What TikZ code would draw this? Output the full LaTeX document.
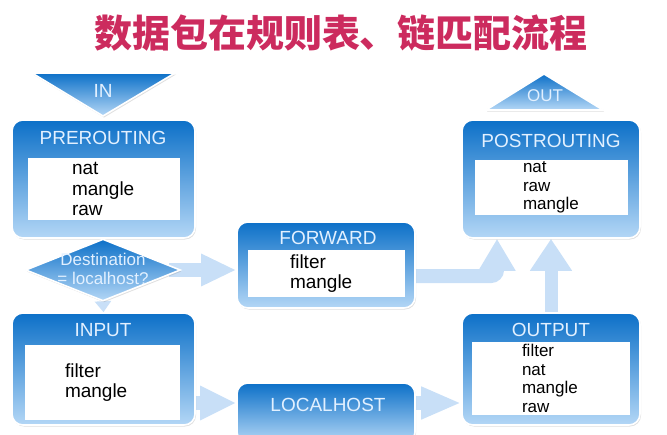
\documentclass[tikz,border=0pt]{standalone}
\usepackage{fontspec}
\setmainfont{Liberation Sans}
\newfontfamily\cjkfont{Noto Sans CJK SC}
\usetikzlibrary{arrows.meta,positioning,shapes.geometric,shadows,backgrounds}
\definecolor{chainblue}{RGB}{12,112,200}
\definecolor{chainmid}{RGB}{70,150,225}
\definecolor{chainpale}{RGB}{180,215,246}
\definecolor{flowblue}{RGB}{200,223,247}
\definecolor{headred}{RGB}{204,43,94}
\definecolor{labelwhite}{RGB}{226,240,255}

\tikzset{
  chainbox/.style={rounded corners=11pt, top color=chainblue, bottom color=chainpale,
    draw=white, line width=1.6pt, drop shadow={shadow xshift=1pt, shadow yshift=-1.5pt, opacity=0.25}},
  entrytri/.style={top color=chainblue, bottom color=chainpale, draw=white, line width=1.6pt,
    drop shadow={shadow xshift=1pt, shadow yshift=-1.5pt, opacity=0.25}},
  chaintitle/.style={text=labelwhite, font=\fontsize{19}{21}\selectfont, inner sep=0pt},
  tablelist/.style={fill=white, align=left, inner ysep=0pt, font=\fontsize{19}{20.5}\selectfont},
  smalllist/.style={tablelist, font=\fontsize{17}{18.7}\selectfont},
  decision/.style={diamond, top color=chainblue, bottom color=chainpale, draw=white, line width=1.6pt,
    inner sep=0pt, drop shadow={shadow xshift=1pt, shadow yshift=-1.5pt, opacity=0.25}},
  flow/.style={draw=flowblue, line width=14pt, -{Triangle[length=32pt,width=34pt]}},
}

\begin{document}
\begin{tikzpicture}[x=1pt, y=-1pt]
\clip (0,0) rectangle (667,434);

\node[text=headred, font=\cjkfont\bfseries\fontsize{38}{40}\selectfont] (heading) at (341,33) {数据包在规则表、链匹配流程};

% in / out
\path[entrytri] (32,73) -- (175,73) -- (103,116) -- cycle;
\node[chaintitle] (inlabel) at (103,91) {IN};
\path[entrytri] (544,74) -- (603,110) -- (486,110) -- cycle;
\node[chaintitle, font=\fontsize{17}{19}\selectfont] (outlabel) at (545,96) {OUT};

% chains
\node[chainbox, minimum width=183pt, minimum height=118pt] (pre) at (103.5,179) {};
\node[chaintitle] (pretitle) at (103,138) {PREROUTING};
\node[tablelist, minimum width=152pt, minimum height=62pt, text width=64pt, inner xsep=44pt] (pretables) at (104,189) {nat\\mangle\\raw};

\node[chainbox, minimum width=178pt, minimum height=86pt] (fwd) at (326,265) {};
\node[chaintitle] (fwdtitle) at (328,238) {FORWARD};
\node[tablelist, minimum width=157pt, minimum height=47pt, text width=73pt, inner xsep=42pt] (fwdtables) at (326.5,273.5) {filter\\mangle};

\node[chainbox, minimum width=178pt, minimum height=118pt] (post) at (551,179) {};
\node[chaintitle] (posttitle) at (551,141) {POSTROUTING};
\node[smalllist, minimum width=153pt, minimum height=55pt, text width=57pt, inner xsep=48pt] (posttables) at (551.5,187.5) {nat\\raw\\mangle};

\node[chainbox, minimum width=183pt, minimum height=112pt] (input) at (103.5,369) {};
\node[chaintitle] (inputtitle) at (103,330) {INPUT};
\node[tablelist, minimum width=155pt, minimum height=75pt, text width=75pt, inner xsep=40pt] (inputtables) at (102.5,382.5) {filter\\mangle};

\node[chainbox, minimum width=178pt, minimum height=112pt] (output) at (551,369) {};
\node[chaintitle] (outputtitle) at (551,330) {OUTPUT};
\node[smalllist, minimum width=158pt, minimum height=73pt, text width=58pt, inner xsep=50pt] (outputtables) at (551,378.5) {filter\\nat\\mangle\\raw};

\node[chainbox, minimum width=178pt, minimum height=60pt] (local) at (326,413) {};
\node[chaintitle] (localtitle) at (328,405) {LOCALHOST};

% routing decision
\node[decision, minimum width=155pt, minimum height=62pt] (dest) at (103,270) {};
\node[text=labelwhite, align=center, font=\fontsize{17}{19.5}\selectfont, inner sep=0pt] (destq) at (103,269) {Destination\\= localhost?};

\begin{scope}[on background layer]
\draw[flow, -{Triangle[length=35pt,width=30pt]}] ([xshift=-12pt]dest.east) -- (dest.east -| fwd.west);
\draw[flow, rounded corners=6pt, -{Triangle[length=32pt,width=35pt]}] ([yshift=-11pt]fwd.east) -| ([xshift=-54pt]post.south);
\draw[flow, line width=13pt, -{Triangle[length=32pt,width=40pt]}] (output.north) -- (post.south);
\draw[flow, -{Triangle[length=36pt,width=32pt]}] (input.east |- 0,403) -- (local.west |- 0,403);
\draw[flow, -{Triangle[length=40pt,width=30pt]}] (local.east |- 0,403) -- (output.west |- 0,403);
\draw[flow, line width=4pt, -{Triangle[length=11pt,width=16pt]}] (dest.south) -- (input.north);
\end{scope}
\end{tikzpicture}
\end{document}
